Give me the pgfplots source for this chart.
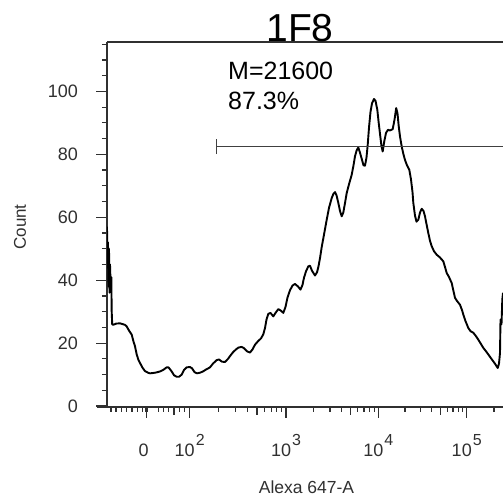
\documentclass[border=0pt]{standalone}
\usepackage{pgfplots}
\pgfplotsset{compat=1.18}
\usepackage{fontspec}
\setmainfont{Liberation Sans}
\definecolor{axgray}{HTML}{303030}
\definecolor{gategray}{HTML}{404040}
\newcommand{\dec}[1]{10\hspace{1bp}\raisebox{11.5bp}{\fontsize{16bp}{16bp}\selectfont #1}}
\begin{document}
\begin{tikzpicture}
\begin{axis}[
  at={(107bp,93bp)}, anchor=south west,
  scale only axis,
  width=396bp, height=365bp,
  xmin=0, xmax=396, ymin=-0.3, ymax=115.7,
  axis x line*=box, axis y line*=left,
  xtick pos=left, ytick pos=left,
  tick align=outside,
  major tick length=10.5bp, minor tick length=5bp,
  axis line style={line width=1.4bp, axgray},
  tick style={line width=1.2bp, axgray},
  /pgf/number format/assume math mode=true,
  xtick={39.7,82.7,179,271.3,359.7},
  xticklabels={0\hspace*{6bp},\dec{2},\dec{3},\dec{4},\dec{5}},
  minor xtick={4,9,14.3,19.7,25,30.3,35.7,38.6,39.2,40.2,40.8,51.3,56.3,61.7,72.3,77.3,
    111.7,128.6,140.7,157.6,164.1,169.7,174.6,
    206.8,223.0,234.6,250.8,257.0,262.4,267.2,
    297.9,313.5,324.5,340.1,346.0,351.1,355.6,387},
  extra x ticks={67,150,243.5,333.1},
  extra x tick labels={},
  extra x tick style={major tick length=7.5bp},
  ytick={0,20,40,60,80,100},
  minor ytick={5,10,15,25,30,35,45,50,55,65,70,75,85,90,95,105,110,115},
  tick label style={font=\fontsize{18bp}{18bp}\selectfont, text=axgray},
  xticklabel style={anchor=base, yshift=-39bp},
  yticklabel style={anchor=east, xshift=-15bp},
  clip=true,
]
\addplot[black, line width=1.9bp, line join=round] coordinates {
(0.0,57.0) (0.5,44) (1.0,52) (1.5,38) (2.0,50) (2.5,36) (3.0,45) (3.7,38) (4.3,41) (4.7,30)
(5.2,26) (6.3,25.8) (9,26.2) (13,26.3) (16,26.0) (18,25.8) (19.7,25.3) (22,24) (24.7,22.7)
(26.5,20.5) (28,19.0) (29.7,16.4) (31.3,14.8) (33,13.7) (35.5,12.2) (38,11.1) (41,10.6)
(43,10.4) (46,10.5) (49.7,10.7) (53,11.0) (56.3,11.5) (59.7,12.3) (61.5,12.3) (64.7,11.0)
(67,9.8) (69.7,9.3) (72,9.3) (74.7,10.0) (77,11.5) (79.7,12.3) (83,12.4) (85,12.0)
(87.5,10.8) (90,10.4) (93,10.6) (96,11.0) (99,11.6) (103,12.3) (106,13.5) (109.7,14.6)
(112,14.8) (115,14.1) (118,14.0) (121,15.0) (124,16.3) (126.3,17.2) (129,18.0) (131.5,18.6)
(134.7,18.8) (137,18.4) (140,17.4) (143,17.0) (145.5,18.0) (148,19.5) (151,20.6) (154,21.5)
(156.3,22.8) (158,24.8) (159.5,27.5) (161.3,29.3) (163.5,29.6) (166.3,28.5) (168.5,29.6)
(171.3,30.8) (174,30.3) (176.3,29.6) (178.5,31.5) (180.5,34.5) (183,36.8) (185.5,38.3)
(188,38.8) (191,38.0) (193.5,37.0) (195.5,38.5) (197,40.8) (199,42.8) (201.3,44.4) (203,44.6)
(205,43.0) (208,41.5) (210,42.5) (211.5,44.4) (213,47.0) (214.7,50.5) (217,54.5) (219.7,59.2)
(222,63.0) (224.7,66.1) (226.5,67.5) (228,68.0) (229.5,67.0) (231.3,64.6) (233,62.0)
(234.7,60.3) (236.3,61.5) (238,64.5) (239.7,67.7) (242,70.5) (244.7,73.5) (246.5,76.5)
(248,79.4) (249.7,81.3) (251.3,82.2) (253,80.5) (254.7,78.6) (256.5,76.5) (258,76.4)
(259.5,79) (260.7,83) (262,88.5) (263.5,93.5) (265,96.2) (267,97.6) (268.5,97.0) (270.3,94.2)
(271.7,90) (273,86.5) (274.5,82.5) (275.7,80.9) (277.2,84) (279,86.8) (281,87.8) (283,87.6)
(285.7,88.0) (287.5,91) (289.2,94.7) (290.5,93) (291.7,89) (293,85.7) (294.7,82.5)
(296.3,80.2) (298,78.2) (300,76.5) (302.3,75.1) (304,72) (305.5,68) (306.3,64.6) (308,60.5)
(309.5,58.6) (311.3,59.2) (313,61.5) (314.7,62.7) (316.5,62.0) (318,60.3) (319.7,57.5)
(321.3,55.0) (323,52.5) (324.7,50.8) (327,49.2) (329.7,48.1) (333,47.2) (336.3,46.0)
(338,44.2) (339.7,42.3) (342,41.0) (344.7,39.1) (346.5,36.5) (348,34.4) (350,33.4) (353,32.2)
(355,30.5) (356.3,29.1) (358.5,27.0) (361.3,24.8) (363.5,23.8) (366.3,23.3) (369,22.2)
(371.3,21.1) (374,19.7) (376.3,18.5) (379,17.4) (381.3,16.4) (384,15.2) (386.3,14.2)
(388.5,13.2) (390.7,12.1) (392,13.5) (393,16.9) (393.5,27.5) (394.5,26) (395.3,33.8) (396,36)
};
\addplot[gategray, line width=1.3bp] coordinates {(109.5,82.5) (400,82.5)};
\addplot[gategray, line width=1.3bp] coordinates {(109.5,80.1) (109.5,84.9)};
\end{axis}
\draw[axgray, line width=1.4bp] (97bp,93bp) -- (107bp,93bp);
\node[anchor=base, font=\fontsize{39bp}{39bp}\selectfont] at (300bp,458.3bp) {1F8};
\node[anchor=base west, inner sep=0pt, font=\fontsize{25bp}{25bp}\selectfont] at (228bp,420bp) {M=21600};
\node[anchor=base west, inner sep=0pt, font=\fontsize{25bp}{25bp}\selectfont] at (228bp,390bp) {87.3\%};
\node[rotate=90, text=axgray, font=\fontsize{17bp}{17bp}\selectfont] at (20bp,273bp) {Count};
\node[anchor=base, text=axgray, font=\fontsize{17.5bp}{17.5bp}\selectfont] at (306.5bp,6.7bp) {Alexa 647-A};
\pgfresetboundingbox
\path (0,0) rectangle (503bp,500bp);
\end{tikzpicture}
\end{document}
